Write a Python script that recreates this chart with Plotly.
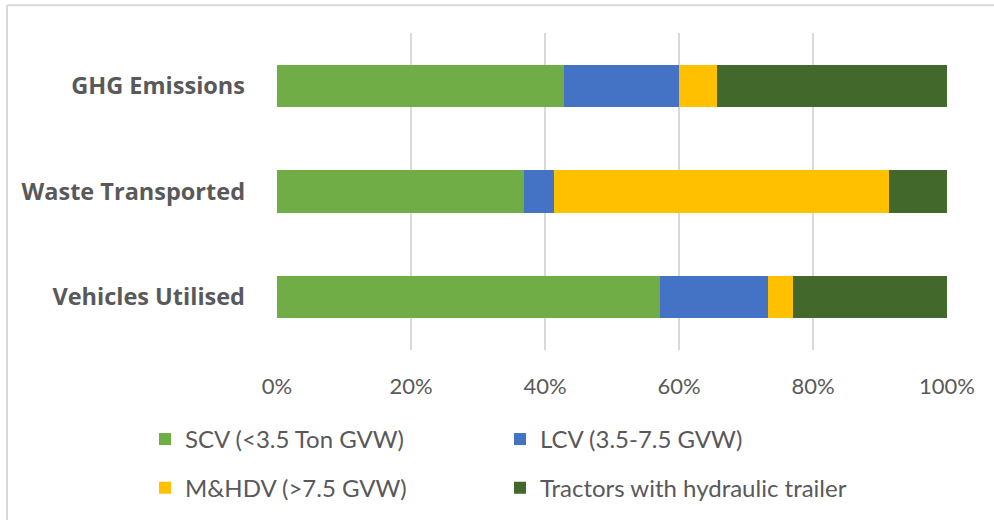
import plotly.graph_objects as go

categories = ["Vehicles Utilised", "Waste Transported", "GHG Emissions"]
series_names = ["SCV (<3.5 Ton GVW)", "LCV (3.5-7.5 GVW)", "M&HDV (>7.5 GVW)",
                "Tractors with hydraulic trailer"]
scv = [57.2, 36.9, 42.9]
lcv = [16.1, 4.4, 17.1]
mhdv = [3.7, 50.0, 5.6]
tractors = [23.0, 8.7, 34.4]
tick_vals = [0, 20, 40, 60, 80, 100]
tick_text = ["0%", "20%", "40%", "60%", "80%", "100%"]

colors = ["#70AD47", "#4472C4", "#FFC000", "#43682B"]
legend_ids = ["legend", "legend2", "legend3", "legend4"]
# legend item symbol positions (px) in the picture
legend_pos = [(165, 442), (520, 442), (165, 491), (520, 491)]

W, H = 994, 523
ml, mr, mt, mb = 277, 47, 33, 171
pw, ph = W - ml - mr, H - mt - mb

def px_x(px):
    return (px - ml) / pw

def px_y(py):
    return (H - mb - py) / ph

fig = go.Figure()
for name, vals, col, lg in zip(series_names, [scv, lcv, mhdv, tractors], colors, legend_ids):
    fig.add_trace(go.Bar(
        y=categories, x=vals, name=name, orientation="h",
        marker=dict(color=col, line=dict(width=0)),
        legend=lg, showlegend=True,
    ))

txt = "#595959"
layout_legends = {}
for lg, (lx, ly) in zip(legend_ids, legend_pos):
    layout_legends[lg] = dict(
        orientation="h", x=px_x(lx - 20), y=px_y(ly), xanchor="left", yanchor="middle",
        font=dict(size=24, color=txt, family="Lato, sans-serif"),
        bgcolor="rgba(0,0,0,0)", borderwidth=0, visible=True,
    )

fig.update_layout(
    width=W, height=H,
    showlegend=True,
    margin=dict(l=ml, r=mr, t=mt, b=mb),
    barmode="stack", bargap=0.6,
    plot_bgcolor="white", paper_bgcolor="white",
    font=dict(family="Lato, 'Open Sans', sans-serif", color=txt),
    xaxis=dict(range=[0, 100], tickvals=tick_vals, ticktext=tick_text,
               showgrid=True, gridcolor="#D9D9D9", gridwidth=1.5,
               zeroline=False, showline=False, ticks="",
               tickfont=dict(size=22, color=txt), ticklabelstandoff=21),
    yaxis=dict(categoryorder="array", categoryarray=categories,
               showgrid=False, zeroline=False, showline=False, ticks="",
               tickfont=dict(size=23.5, color=txt, family="'Open Sans', sans-serif", weight="bold"),
               ticklabelstandoff=31),
    shapes=[
        dict(type="line", xref="paper", yref="paper", x0=px_x(7), x1=px_x(994), y0=px_y(5), y1=px_y(5),
             line=dict(color="#D9D9D9", width=2)),
        dict(type="line", xref="paper", yref="paper", x0=px_x(7), x1=px_x(7), y0=px_y(5), y1=px_y(523),
             line=dict(color="#D9D9D9", width=2)),
    ],
    **layout_legends,
)

fig.write_html("out.html", config={"displayModeBar": False},
               post_script="document.body.style.margin='0px';")
